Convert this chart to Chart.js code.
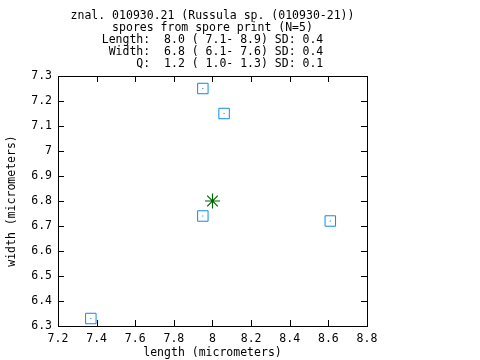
<!DOCTYPE html>
<html>
<head>
<meta charset="utf-8">
<script src="https://cdn.jsdelivr.net/npm/chart.js@4/dist/chart.umd.min.js"></script>
<style>
  html, body { margin: 0; padding: 0; background: #fff; }
  canvas { display: block; }
</style>
</head>
<body>
<canvas id="spores" width="480" height="360"></canvas>
<script>
// spore measurements (micrometers)
const sporeLength = [7.95, 8.06, 7.95, 8.61, 7.37];
const sporeWidth  = [7.25, 7.15, 6.74, 6.72, 6.33];
const meanLength  = [8.0];
const meanWidth   = [6.8];

const titleLines = [
  'znal. 010930.21 (Russula sp. (010930-21))',
  'spores from spore print (N=5)',
  'Length:  8.0 ( 7.1- 8.9) SD: 0.4',
  ' Width:  6.8 ( 6.1- 7.6) SD: 0.4',
  '     Q:  1.2 ( 1.0- 1.3) SD: 0.1',
];
const xRange = [7.2, 8.8];
const yRange = [6.3, 7.3];

const MONO = "'DejaVu Sans Mono', 'Liberation Mono', monospace";
const FS = 11.5;
const BLUE = '#1088ee';
const GREEN = '#006400';

// gnuplot-style frame with inward ticks on all four sides
const frameTicks = {
  id: 'frameTicks',
  afterDatasetsDraw(chart) {
    const { ctx, chartArea: a, scales } = chart;
    const L = 6;
    ctx.save();
    ctx.strokeStyle = '#000';
    ctx.lineWidth = 1;
    ctx.beginPath();
    scales.x.ticks.forEach(t => {
      const px = Math.round(scales.x.getPixelForValue(t.value)) + 0.5;
      ctx.moveTo(px, a.bottom); ctx.lineTo(px, a.bottom - L);
      ctx.moveTo(px, a.top); ctx.lineTo(px, a.top + L);
    });
    scales.y.ticks.forEach(t => {
      const py = Math.round(scales.y.getPixelForValue(t.value)) + 0.5;
      ctx.moveTo(a.left, py); ctx.lineTo(a.left + L, py);
      ctx.moveTo(a.right, py); ctx.lineTo(a.right - L, py);
    });
    ctx.stroke();
    ctx.strokeRect(Math.round(a.left) + 0.5, Math.round(a.top) + 0.5,
                   Math.round(a.right - a.left), Math.round(a.bottom - a.top));
    ctx.restore();
  }
};

const fmtTick = v => String(+(+v).toFixed(1));

new Chart(document.getElementById('spores'), {
  type: 'scatter',
  data: {
    datasets: [
      {
        data: sporeLength.map((x, i) => ({ x, y: sporeWidth[i] })),
        pointStyle: 'rect', pointRadius: 7.4, borderWidth: 1,
        borderColor: BLUE, backgroundColor: 'rgba(0,0,0,0)',
      },
      {
        data: sporeLength.map((x, i) => ({ x, y: sporeWidth[i] })),
        pointStyle: 'rect', pointRadius: 0.8, borderWidth: 0,
        backgroundColor: BLUE,
      },
      {
        data: meanLength.map((x, i) => ({ x, y: meanWidth[i] })),
        pointStyle: 'star', pointRadius: 7.5, borderWidth: 1.2,
        borderColor: GREEN, backgroundColor: GREEN,
      },
    ],
  },
  options: {
    responsive: false, animation: false, devicePixelRatio: 1,
    layout: { padding: { left: 0, right: 113, top: 0, bottom: 0 } },
    plugins: {
      legend: { display: false },
      tooltip: { enabled: false },
      title: {
        display: true, fullSize: false, text: titleLines, color: '#000',
        font: { family: MONO, size: FS, weight: 'normal', lineHeight: 12 / FS },
        padding: { top: 10, bottom: 6 },
      },
    },
    scales: {
      x: {
        type: 'linear', min: xRange[0], max: xRange[1],
        afterFit: s => { s.height = 34; },
        border: { display: false },
        grid: { display: false, drawTicks: false },
        ticks: { stepSize: 0.2, padding: 6, color: '#000', font: { family: MONO, size: FS }, callback: fmtTick },
        title: { display: true, text: 'length (micrometers)', color: '#000', font: { family: MONO, size: FS }, padding: 0 },
      },
      y: {
        type: 'linear', min: yRange[0], max: yRange[1],
        afterFit: s => { s.width = 58; },
        border: { display: false },
        grid: { display: false, drawTicks: false },
        ticks: { stepSize: 0.1, padding: 6, color: '#000', font: { family: MONO, size: FS }, callback: fmtTick },
        title: { display: true, text: 'width (micrometers)', color: '#000', font: { family: MONO, size: FS }, padding: { top: 5, bottom: 0 } },
      },
    },
  },
  plugins: [frameTicks],
});
</script>
</body>
</html>
